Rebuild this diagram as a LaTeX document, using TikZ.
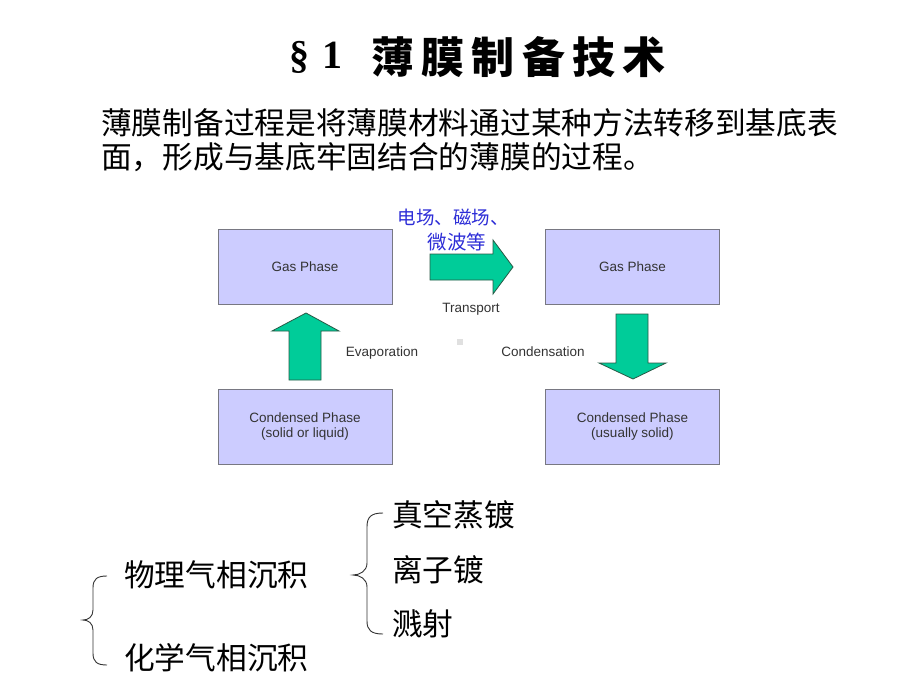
\documentclass[tikz,border=0pt]{standalone}
\usepackage{fontspec}
\setmainfont{Liberation Sans}
\newfontfamily\cjk{Noto Sans CJK SC}
\newfontfamily\cjktitle[LetterSpace=17]{Noto Sans CJK SC}
\newfontfamily\serifnum{Liberation Serif}
\definecolor{boxfill}{RGB}{204,204,255}
\definecolor{boxline}{RGB}{120,120,130}
\definecolor{arrowfill}{RGB}{0,204,153}
\definecolor{arrowline}{RGB}{40,90,70}
\definecolor{bluelabel}{RGB}{45,45,215}
\tikzset{
  phasebox/.style={draw=boxline, line width=1pt, fill=boxfill, minimum width=174pt, minimum height=75pt, inner sep=0pt, align=center, font=\fontsize{13.5}{15.5}\selectfont, text=black!80},
  bigarrow/.style={draw=arrowline, line width=0.8pt, fill=arrowfill, line join=miter},
  smalllabel/.style={inner sep=0pt, font=\fontsize{13.5}{15.5}\selectfont, text=black!80},
  cjktext/.style={inner sep=0pt, font=\cjk\fontsize{30.7}{36}\selectfont},
  bracepath/.style={draw=black!80, line width=0.9pt}
}
\begin{document}
\begin{tikzpicture}[x=1pt,y=-1pt]
\useasboundingbox (0,0) rectangle (920,690);
\fill[white] (0,0) rectangle (920,690);

% title
\node[inner sep=0pt, anchor=center] (titlenum) at (316,57) {\serifnum\bfseries\fontsize{40}{44}\selectfont §\hspace{13pt}1};
\node[inner sep=0pt, anchor=west] (title) at (371,57) {\cjktitle\bfseries\fontsize{43}{48}\selectfont 薄膜制备技术};

% paragraph
\node[cjktext, anchor=west] (para1) at (101,123) {薄膜制备过程是将薄膜材料通过某种方法转移到基底表};
\node[cjktext, anchor=west] (para2) at (101,157) {面，形成与基底牢固结合的薄膜的过程。};

% boxes
\node[phasebox] (gasL) at (305,266.5) {Gas Phase};
\node[phasebox] (gasR) at (632.5,266.5) {Gas Phase};
\node[phasebox] (condL) at (305,426.5) {Condensed Phase\\(solid or liquid)};
\node[phasebox] (condR) at (632.5,426.5) {Condensed Phase\\(usually solid)};

% arrows
\draw[bigarrow] (430,254) -- (493,254) -- (493,240) -- (513,267) -- (493,294) -- (493,280) -- (430,280) -- cycle;
\draw[bigarrow] (289,380) -- (289,331) -- (272,331) -- (306,313) -- (339,331) -- (321,331) -- (321,380) -- cycle;
\draw[bigarrow] (616,314) -- (648,314) -- (648,363) -- (666,363) -- (633,379) -- (599,363) -- (616,363) -- cycle;

% labels
\node[smalllabel] (transport) at (471,309) {Transport};
\node[smalllabel] (evap) at (382,353) {Evaporation};
\node[smalllabel] (cond) at (543,352) {Condensation};
\node[fill=black!12, minimum size=6pt, inner sep=0pt] (dot) at (460,342) {};
\node[inner sep=0pt, text=bluelabel, font=\cjk\fontsize{18.5}{20}\selectfont] (field1) at (453,217) {电场、磁场、};
\node[inner sep=0pt, text=bluelabel, font=\cjk\fontsize{19.5}{20}\selectfont] (field2) at (457,242) {微波等};

% bottom classification
\node[cjktext, anchor=west] (pvd) at (124,575) {物理气相沉积};
\node[cjktext, anchor=west] (cvd) at (124,658) {化学气相沉积};
\node[cjktext, anchor=west] (evapc) at (392,515) {真空蒸镀};
\node[cjktext, anchor=west] (ion) at (392,570) {离子镀};
\node[cjktext, anchor=west] (sput) at (392,624) {溅射};

% braces
\draw[bracepath] (107,576) .. controls (97,576) and (93,579) .. (93,588) -- (93,610) .. controls (93,617) and (88,620) .. (83,620) .. controls (88,620) and (93,623) .. (93,630) -- (93,653) .. controls (93,662) and (97,665) .. (107,665);
\draw[bracepath] (383,513) .. controls (371,513) and (367,517) .. (367,527) -- (367,563) .. controls (367,571) and (360,575) .. (353,575) .. controls (360,575) and (367,579) .. (367,587) -- (367,621) .. controls (367,630) and (371,634) .. (383,634);
\end{tikzpicture}
\end{document}
